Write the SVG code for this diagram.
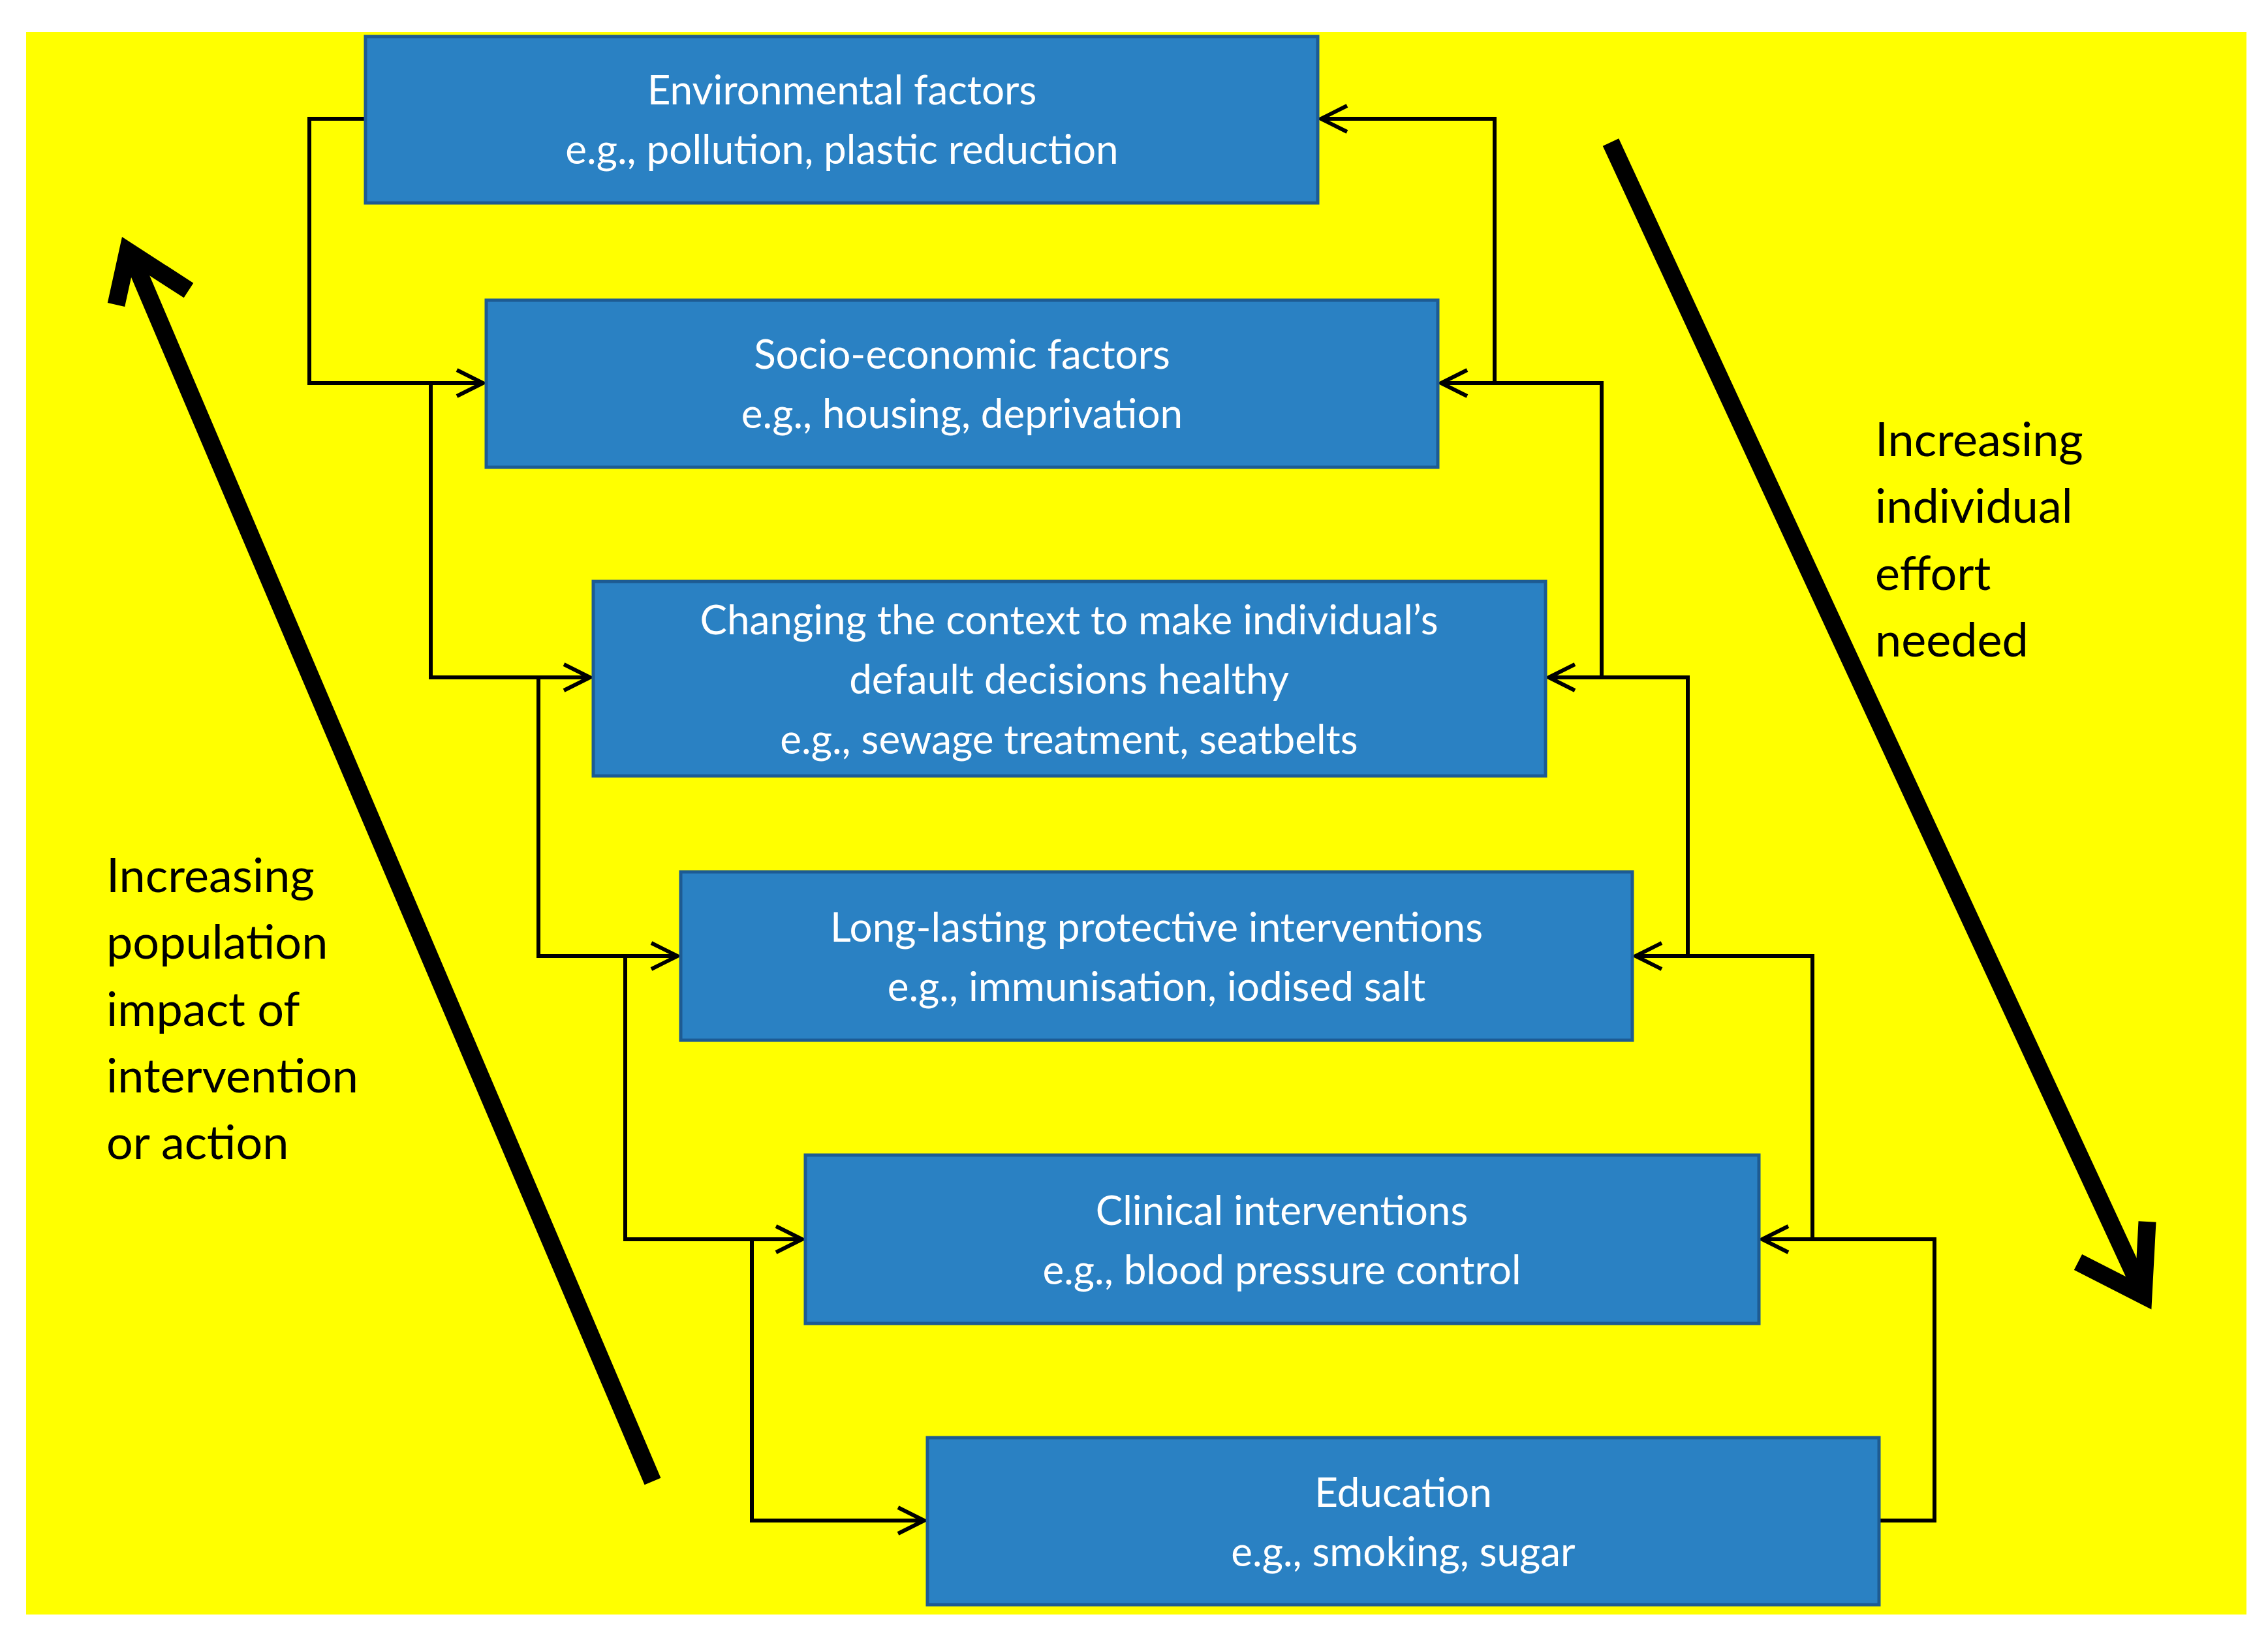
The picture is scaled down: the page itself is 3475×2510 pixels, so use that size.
<svg xmlns="http://www.w3.org/2000/svg" width="3475" height="2510" viewBox="0 0 3475 2510">
<defs>
<marker id="ah" viewBox="0 0 10 10" refX="9" refY="5" markerWidth="6" markerHeight="6" orient="auto" markerUnits="userSpaceOnUse"><path d="M0,0 L10,5 L0,10" fill="none" stroke="#000" stroke-width="2"/></marker>
<style>
.box{fill:#2a81c3;stroke:#1d5b93;stroke-width:5}
.bt{font-family:Lato,"Open Sans",sans-serif;font-size:62px;fill:#fff;text-anchor:middle}
.side{font-family:Lato,"Open Sans",sans-serif;font-size:72px;fill:#000}
.c{fill:none;stroke:#000;stroke-width:6}
.big{fill:none;stroke:#000;stroke-width:27;stroke-linecap:butt}
</style>
</defs>
<rect width="3475" height="2510" fill="#fff"/>
<rect x="40" y="49" width="3402" height="2425" fill="#ffff00"/>
<g id="connectors">
<polyline class="c" points="560,182 474,182 474,587 740,587" marker-end="url(#ah)" style="marker-end:none"/>
<path class="c" d="M700,567 L740,587 L700,607"/>
<polyline class="c" points="660,587 660,1038 904,1038"/>
<path class="c" d="M864,1018 L904,1038 L864,1058"/>
<polyline class="c" points="825,1038 825,1465 1038,1465"/>
<path class="c" d="M998,1445 L1038,1465 L998,1485"/>
<polyline class="c" points="958,1465 958,1899 1229,1899"/>
<path class="c" d="M1189,1879 L1229,1899 L1189,1919"/>
<polyline class="c" points="1152,1899 1152,2330 1416,2330"/>
<path class="c" d="M1376,2310 L1416,2330 L1376,2350"/>
<polyline class="c" points="2879,2330 2964,2330 2964,1899 2700,1899"/>
<path class="c" d="M2740,1879 L2700,1899 L2740,1919"/>
<polyline class="c" points="2777,1899 2777,1465 2506,1465"/>
<path class="c" d="M2546,1445 L2506,1465 L2546,1485"/>
<polyline class="c" points="2586,1465 2586,1038 2373,1038"/>
<path class="c" d="M2413,1018 L2373,1038 L2413,1058"/>
<polyline class="c" points="2454,1038 2454,587 2208,587"/>
<path class="c" d="M2248,567 L2208,587 L2248,607"/>
<polyline class="c" points="2290,587 2290,182 2024,182"/>
<path class="c" d="M2064,162 L2024,182 L2064,202"/>
</g>
<g id="arrow-left">
<line class="big" x1="1000" y1="2270" x2="200" y2="388"/>
<polyline class="big" points="178,467 196,385 289,445"/>
</g>
<g id="arrow-right">
<line class="big" x1="2468" y1="218" x2="3282" y2="1978"/>
<polyline class="big" points="3184,1934 3284,1985 3290,1872"/>
</g>
<g id="n1"><rect class="box" x="560" y="56" width="1459" height="255"/>
<text class="bt" x="1290" y="160">Environmental  factors</text><text class="bt" x="1290" y="251">e.g., pollution, plastic reduction</text></g>
<g id="n2"><rect class="box" x="745" y="460" width="1458" height="256"/>
<text class="bt" x="1474" y="565">Socio-economic  factors</text><text class="bt" x="1474" y="656">e.g., housing, deprivation</text></g>
<g id="n3"><rect class="box" x="909" y="891" width="1459" height="298"/>
<text class="bt" x="1638" y="972">Changing the context to make individual’s</text><text class="bt" x="1638" y="1063">default decisions healthy</text><text class="bt" x="1638" y="1155">e.g., sewage treatment, seatbelts</text></g>
<g id="n4"><rect class="box" x="1043" y="1336" width="1458" height="258"/>
<text class="bt" x="1772" y="1443">Long-lasting protective interventions</text><text class="bt" x="1772" y="1534">e.g., immunisation, iodised salt</text></g>
<g id="n5"><rect class="box" x="1234" y="1770" width="1461" height="258"/>
<text class="bt" x="1964" y="1877">Clinical interventions</text><text class="bt" x="1964" y="1968">e.g., blood pressure control</text></g>
<g id="n6"><rect class="box" x="1421" y="2203" width="1458" height="256"/>
<text class="bt" x="2150" y="2309">Education</text><text class="bt" x="2150" y="2400">e.g., smoking, sugar</text></g>
<g id="left-label"><text class="side" x="163" y="1367">Increasing</text><text class="side" x="163" y="1469">population</text><text class="side" x="163" y="1572">impact of</text><text class="side" x="163" y="1674">intervention</text><text class="side" x="163" y="1776">or action</text></g>
<g id="right-label"><text class="side" x="2873" y="699">Increasing</text><text class="side" x="2873" y="801">individual</text><text class="side" x="2873" y="904">effort</text><text class="side" x="2873" y="1006">needed</text></g>
</svg>
